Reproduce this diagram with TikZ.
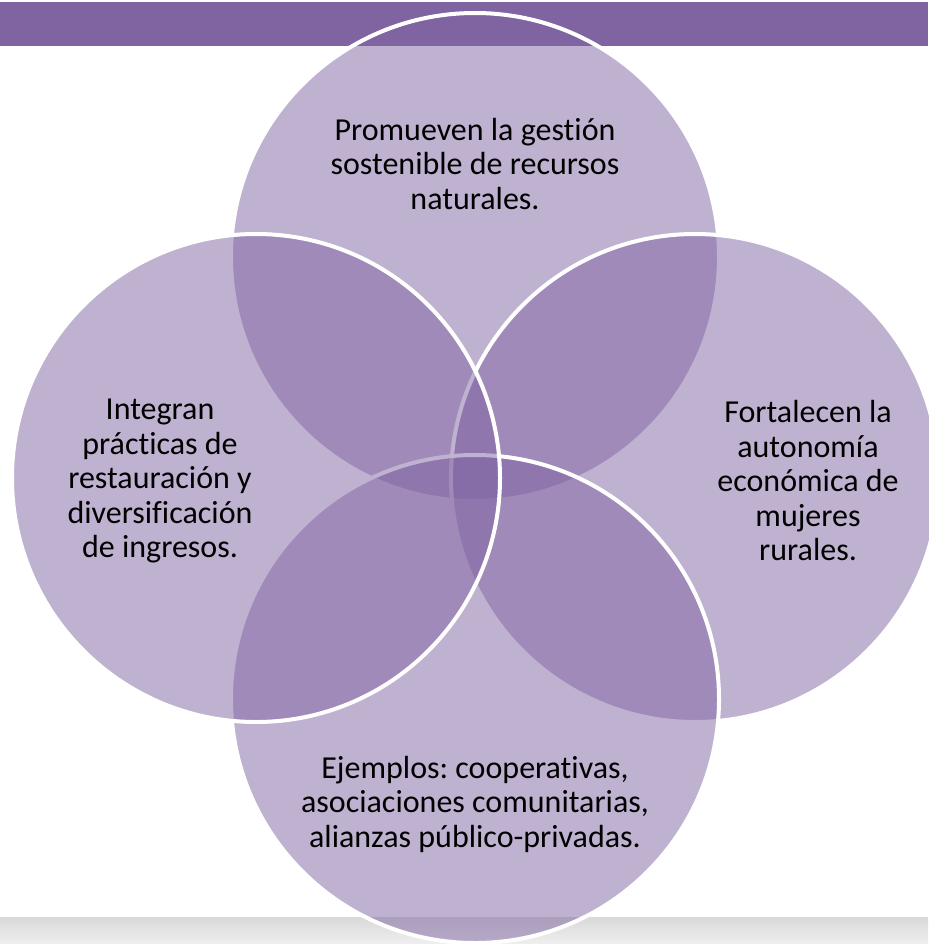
\documentclass[tikz,border=0pt]{standalone}
\usepackage{fontspec}
\setmainfont{Carlito}[Ligatures=NoCommon]
\frenchspacing
\usetikzlibrary{positioning}
\definecolor{vennpurple}{HTML}{8064A2}
\definecolor{bargray}{HTML}{D9D9D9}
\definecolor{barlight}{HTML}{EFEFEF}
\tikzset{
    every picture/.style = {
        x = 1pt,
        y = -1pt
    },
    venn/.style = {
        circle,
        draw = white,
        line width = 4pt,
        fill = vennpurple,
        fill opacity = 0.5,
        inner sep = 0pt,
        minimum size = 488pt
    },
    label text/.style = {
        align = center,
        text = black,
        font = \fontsize{32}{34.5}\selectfont
    }
}

\begin{document}
\begin{tikzpicture}
    \useasboundingbox (0,0) rectangle (928,944);
    \fill[vennpurple] (0,2) rectangle (928,46);
    \shade[top color = bargray, bottom color = barlight] (0,917) rectangle (928,944);
    \node[venn] (top) at (475,257) {};
    \node[venn] (right) at (695,478) {};
    \node[venn] (bottom) at (475,699) {};
    \node[venn] (left) at (256,478) {};
    \node[label text] (toptext) at (475,164) {Promueven la gestión\\sostenible de recursos\\naturales.};
    \node[label text] (righttext) at (808,481) {Fortalecen la\\autonomía\\económica de\\mujeres\\rurales.};
    \node[label text] (bottomtext) at (475,804) {Ejemplos: cooperativas,\\asociaciones comunitarias,\\alianzas público-privadas.};
    \node[label text] (lefttext) at (160,481) {Integran\\prácticas de\\restauración y\\diversificación\\de ingresos.};
\end{tikzpicture}
\end{document}
